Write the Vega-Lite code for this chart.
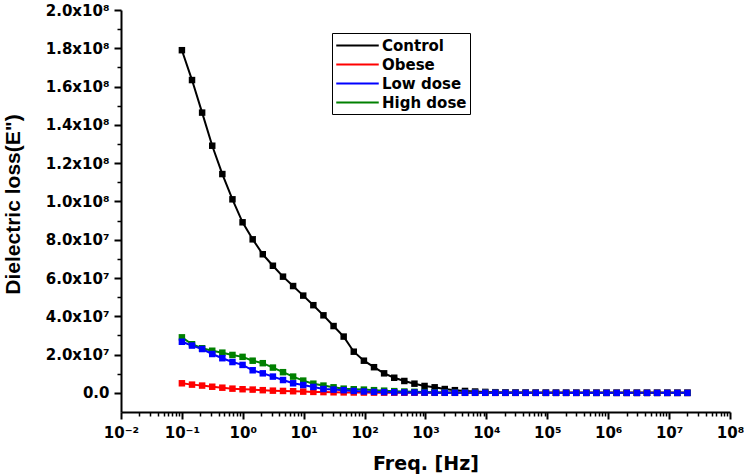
{
  "$schema": "https://vega.github.io/schema/vega-lite/v6.json",
  "width": 609,
  "height": 402,
  "autosize": "none",
  "padding": {"left": 121, "top": 10, "right": 14, "bottom": 64},
  "background": "white",
  "config": {"view": {"stroke": null}},
  "data": {"values": [
{"series":"Control","freq":0.1,"loss":1.79e8},{"series":"Control","freq":0.1466,"loss":1.634e8},{"series":"Control","freq":0.2148,"loss":1.464e8},{"series":"Control","freq":0.3148,"loss":1.291e8},{"series":"Control","freq":0.4613,"loss":1.143e8},{"series":"Control","freq":0.6761,"loss":1.011e8},{"series":"Control","freq":0.991,"loss":8.91e7},{"series":"Control","freq":1.452,"loss":8.02e7},{"series":"Control","freq":2.129,"loss":7.24e7},{"series":"Control","freq":3.12,"loss":6.64e7},{"series":"Control","freq":4.573,"loss":6.07e7},{"series":"Control","freq":6.702,"loss":5.58e7},{"series":"Control","freq":9.822,"loss":5.08e7},{"series":"Control","freq":14.4,"loss":4.58e7},{"series":"Control","freq":21.1,"loss":4.05e7},{"series":"Control","freq":30.93,"loss":3.49e7},{"series":"Control","freq":45.33,"loss":2.94e7},{"series":"Control","freq":66.43,"loss":2.15e7},{"series":"Control","freq":97.36,"loss":1.68e7},{"series":"Control","freq":142.7,"loss":1.34e7},{"series":"Control","freq":209.1,"loss":1.02e7},{"series":"Control","freq":306.5,"loss":7.9e6},{"series":"Control","freq":449.2,"loss":6.2e6},{"series":"Control","freq":658.3,"loss":4.8e6},{"series":"Control","freq":964.9,"loss":3.6e6},{"series":"Control","freq":1414,"loss":2.9e6},{"series":"Control","freq":2073,"loss":2.0e6},{"series":"Control","freq":3038,"loss":1.4e6},{"series":"Control","freq":4453,"loss":1.0e6},{"series":"Control","freq":6526,"loss":7e5},{"series":"Control","freq":9564,"loss":5e5},{"series":"Control","freq":14017,"loss":3.5e5},{"series":"Control","freq":20544,"loss":2.5e5},{"series":"Control","freq":30110,"loss":1.8e5},{"series":"Control","freq":44130,"loss":1.3e5},{"series":"Control","freq":64680,"loss":1e5},{"series":"Control","freq":94780,"loss":8e4},{"series":"Control","freq":138900,"loss":6e4},{"series":"Control","freq":203700,"loss":5e4},{"series":"Control","freq":298500,"loss":4e4},{"series":"Control","freq":437400,"loss":3e4},{"series":"Control","freq":641000,"loss":2.5e4},{"series":"Control","freq":939400,"loss":2e4},{"series":"Control","freq":1377000,"loss":1.6e4},{"series":"Control","freq":2018000,"loss":1.3e4},{"series":"Control","freq":2958000,"loss":1e4},{"series":"Control","freq":4335000,"loss":8e3},{"series":"Control","freq":6354000,"loss":6e3},{"series":"Control","freq":9311000,"loss":5e3},{"series":"Control","freq":13650000,"loss":4e3},{"series":"Control","freq":20000000,"loss":3e3},
{"series":"Obese","freq":0.1,"loss":5.0e6},{"series":"Obese","freq":0.1466,"loss":4.3e6},{"series":"Obese","freq":0.2148,"loss":3.8e6},{"series":"Obese","freq":0.3148,"loss":3.2e6},{"series":"Obese","freq":0.4613,"loss":2.7e6},{"series":"Obese","freq":0.6761,"loss":2.2e6},{"series":"Obese","freq":0.991,"loss":1.9e6},{"series":"Obese","freq":1.452,"loss":1.7e6},{"series":"Obese","freq":2.129,"loss":1.4e6},{"series":"Obese","freq":3.12,"loss":1.15e6},{"series":"Obese","freq":4.573,"loss":1.0e6},{"series":"Obese","freq":6.702,"loss":8.5e5},{"series":"Obese","freq":9.822,"loss":6.5e5},{"series":"Obese","freq":14.4,"loss":5e5},{"series":"Obese","freq":21.1,"loss":4e5},{"series":"Obese","freq":30.93,"loss":3e5},{"series":"Obese","freq":45.33,"loss":2.4e5},{"series":"Obese","freq":66.43,"loss":1.9e5},{"series":"Obese","freq":97.36,"loss":1.5e5},{"series":"Obese","freq":142.7,"loss":1.2e5},{"series":"Obese","freq":209.1,"loss":1e5},{"series":"Obese","freq":306.5,"loss":8e4},{"series":"Obese","freq":449.2,"loss":6e4},{"series":"Obese","freq":658.3,"loss":5e4},{"series":"Obese","freq":964.9,"loss":4e4},{"series":"Obese","freq":1414,"loss":3e4},{"series":"Obese","freq":2073,"loss":2.5e4},{"series":"Obese","freq":3038,"loss":2e4},{"series":"Obese","freq":4453,"loss":1.6e4},{"series":"Obese","freq":6526,"loss":1.3e4},{"series":"Obese","freq":9564,"loss":1e4},{"series":"Obese","freq":14017,"loss":9e3},{"series":"Obese","freq":20544,"loss":8e3},{"series":"Obese","freq":30110,"loss":7e3},{"series":"Obese","freq":44130,"loss":6e3},{"series":"Obese","freq":64680,"loss":5e3},{"series":"Obese","freq":94780,"loss":4.5e3},{"series":"Obese","freq":138900,"loss":4e3},{"series":"Obese","freq":203700,"loss":3.5e3},{"series":"Obese","freq":298500,"loss":3e3},{"series":"Obese","freq":437400,"loss":2.7e3},{"series":"Obese","freq":641000,"loss":2.4e3},{"series":"Obese","freq":939400,"loss":2.1e3},{"series":"Obese","freq":1377000,"loss":1.9e3},{"series":"Obese","freq":2018000,"loss":1.7e3},{"series":"Obese","freq":2958000,"loss":1.5e3},{"series":"Obese","freq":4335000,"loss":1.3e3},{"series":"Obese","freq":6354000,"loss":1.2e3},{"series":"Obese","freq":9311000,"loss":1.1e3},{"series":"Obese","freq":13650000,"loss":1e3},{"series":"Obese","freq":20000000,"loss":900},
{"series":"High dose","freq":0.1,"loss":2.9e7},{"series":"High dose","freq":0.1466,"loss":2.54e7},{"series":"High dose","freq":0.2148,"loss":2.33e7},{"series":"High dose","freq":0.3148,"loss":2.2e7},{"series":"High dose","freq":0.4613,"loss":2.1e7},{"series":"High dose","freq":0.6761,"loss":1.98e7},{"series":"High dose","freq":0.991,"loss":1.88e7},{"series":"High dose","freq":1.452,"loss":1.68e7},{"series":"High dose","freq":2.129,"loss":1.55e7},{"series":"High dose","freq":3.12,"loss":1.32e7},{"series":"High dose","freq":4.573,"loss":1.08e7},{"series":"High dose","freq":6.702,"loss":8.5e6},{"series":"High dose","freq":9.822,"loss":6.4e6},{"series":"High dose","freq":14.4,"loss":4.8e6},{"series":"High dose","freq":21.1,"loss":3.8e6},{"series":"High dose","freq":30.93,"loss":2.9e6},{"series":"High dose","freq":45.33,"loss":2.2e6},{"series":"High dose","freq":66.43,"loss":1.9e6},{"series":"High dose","freq":97.36,"loss":1.7e6},{"series":"High dose","freq":142.7,"loss":1.4e6},{"series":"High dose","freq":209.1,"loss":1.15e6},{"series":"High dose","freq":306.5,"loss":9e5},{"series":"High dose","freq":449.2,"loss":7e5},{"series":"High dose","freq":658.3,"loss":5.5e5},{"series":"High dose","freq":964.9,"loss":4e5},{"series":"High dose","freq":1414,"loss":3e5},{"series":"High dose","freq":2073,"loss":2.3e5},{"series":"High dose","freq":3038,"loss":1.8e5},{"series":"High dose","freq":4453,"loss":1.4e5},{"series":"High dose","freq":6526,"loss":1.1e5},{"series":"High dose","freq":9564,"loss":9e4},{"series":"High dose","freq":14017,"loss":7e4},{"series":"High dose","freq":20544,"loss":5.5e4},{"series":"High dose","freq":30110,"loss":4.5e4},{"series":"High dose","freq":44130,"loss":3.5e4},{"series":"High dose","freq":64680,"loss":2.8e4},{"series":"High dose","freq":94780,"loss":2.2e4},{"series":"High dose","freq":138900,"loss":1.8e4},{"series":"High dose","freq":203700,"loss":1.5e4},{"series":"High dose","freq":298500,"loss":1.2e4},{"series":"High dose","freq":437400,"loss":1e4},{"series":"High dose","freq":641000,"loss":8e3},{"series":"High dose","freq":939400,"loss":7e3},{"series":"High dose","freq":1377000,"loss":6e3},{"series":"High dose","freq":2018000,"loss":5e3},{"series":"High dose","freq":2958000,"loss":4.3e3},{"series":"High dose","freq":4335000,"loss":3.7e3},{"series":"High dose","freq":6354000,"loss":3.2e3},{"series":"High dose","freq":9311000,"loss":2.8e3},{"series":"High dose","freq":13650000,"loss":2.4e3},{"series":"High dose","freq":20000000,"loss":2.1e3},
{"series":"Low dose","freq":0.1,"loss":2.67e7},{"series":"Low dose","freq":0.1466,"loss":2.47e7},{"series":"Low dose","freq":0.2148,"loss":2.29e7},{"series":"Low dose","freq":0.3148,"loss":2.03e7},{"series":"Low dose","freq":0.4613,"loss":1.81e7},{"series":"Low dose","freq":0.6761,"loss":1.61e7},{"series":"Low dose","freq":0.991,"loss":1.46e7},{"series":"Low dose","freq":1.452,"loss":1.18e7},{"series":"Low dose","freq":2.129,"loss":1.02e7},{"series":"Low dose","freq":3.12,"loss":8.5e6},{"series":"Low dose","freq":4.573,"loss":6.7e6},{"series":"Low dose","freq":6.702,"loss":5.0e6},{"series":"Low dose","freq":9.822,"loss":4.1e6},{"series":"Low dose","freq":14.4,"loss":3.1e6},{"series":"Low dose","freq":21.1,"loss":2.0e6},{"series":"Low dose","freq":30.93,"loss":1.7e6},{"series":"Low dose","freq":45.33,"loss":1.4e6},{"series":"Low dose","freq":66.43,"loss":1.0e6},{"series":"Low dose","freq":97.36,"loss":7e5},{"series":"Low dose","freq":142.7,"loss":5e5},{"series":"Low dose","freq":209.1,"loss":4e5},{"series":"Low dose","freq":306.5,"loss":3e5},{"series":"Low dose","freq":449.2,"loss":2.3e5},{"series":"Low dose","freq":658.3,"loss":1.8e5},{"series":"Low dose","freq":964.9,"loss":1.4e5},{"series":"Low dose","freq":1414,"loss":1.1e5},{"series":"Low dose","freq":2073,"loss":9e4},{"series":"Low dose","freq":3038,"loss":7e4},{"series":"Low dose","freq":4453,"loss":5.5e4},{"series":"Low dose","freq":6526,"loss":4.5e4},{"series":"Low dose","freq":9564,"loss":3.5e4},{"series":"Low dose","freq":14017,"loss":2.8e4},{"series":"Low dose","freq":20544,"loss":2.2e4},{"series":"Low dose","freq":30110,"loss":1.8e4},{"series":"Low dose","freq":44130,"loss":1.5e4},{"series":"Low dose","freq":64680,"loss":1.2e4},{"series":"Low dose","freq":94780,"loss":1e4},{"series":"Low dose","freq":138900,"loss":8e3},{"series":"Low dose","freq":203700,"loss":7e3},{"series":"Low dose","freq":298500,"loss":6e3},{"series":"Low dose","freq":437400,"loss":5e3},{"series":"Low dose","freq":641000,"loss":4.3e3},{"series":"Low dose","freq":939400,"loss":3.7e3},{"series":"Low dose","freq":1377000,"loss":3.2e3},{"series":"Low dose","freq":2018000,"loss":2.8e3},{"series":"Low dose","freq":2958000,"loss":2.4e3},{"series":"Low dose","freq":4335000,"loss":2.1e3},{"series":"Low dose","freq":6354000,"loss":1.8e3},{"series":"Low dose","freq":9311000,"loss":1.6e3},{"series":"Low dose","freq":13650000,"loss":1.4e3},{"series":"Low dose","freq":20000000,"loss":1.2e3}
  ]},
  "layer": [
    {
      "mark": {"type": "line", "strokeWidth": 2, "point": {"filled": true, "shape": "square", "size": 42, "opacity": 1}},
      "encoding": {
        "x": {"field": "freq", "type": "quantitative",
          "scale": {"type": "log", "domain": [0.01, 100000000], "nice": false},
          "axis": {"orient": "bottom", "title": "Freq. [Hz]", "grid": false,
            "values": [0.01, 0.1, 1, 10, 100, 1000, 10000, 100000, 1000000, 10000000, 100000000],
            "labelExpr": "'10' + ['⁻²','⁻¹','⁰','¹','²','³','⁴','⁵','⁶','⁷','⁸'][round(log(datum.value)/LN10)+2]",
            "labelFont": "DejaVu Sans", "labelFontWeight": "bold", "labelFontSize": 15, "labelColor": "black",
            "labelPadding": 6, "labelFlush": false, "labelOverlap": false,
            "tickSize": 7, "tickWidth": 2, "tickColor": "black",
            "domainColor": "black", "domainWidth": 2,
            "titleFont": "DejaVu Sans", "titleFontWeight": "bold", "titleFontSize": 19, "titleColor": "black",
            "titleY": 42}},
        "y": {"field": "loss", "type": "quantitative",
          "scale": {"domain": [-10000000, 200000000], "nice": false, "zero": false},
          "axis": {"orient": "left", "title": "Dielectric loss(E\")", "grid": false,
            "values": [0, 20000000, 40000000, 60000000, 80000000, 100000000, 120000000, 140000000, 160000000, 180000000, 200000000],
            "labelExpr": "datum.value == 0 ? '0.0' : (datum.value < 100000000 ? format(datum.value/10000000, '.1f') + 'x10⁷' : format(datum.value/100000000, '.1f') + 'x10⁸')",
            "labelFont": "DejaVu Sans", "labelFontWeight": "bold", "labelFontSize": 15, "labelColor": "black",
            "labelPadding": 5, "labelOverlap": false, "labelFlush": false,
            "tickSize": 7, "tickWidth": 2, "tickColor": "black",
            "domainColor": "black", "domainWidth": 2,
            "titleFont": "Liberation Sans", "titleFontWeight": "bold", "titleFontSize": 21, "titleColor": "black",
            "titleX": -98, "titleY": 194}},
        "color": {"field": "series", "type": "nominal",
          "scale": {"domain": ["Control", "Obese", "Low dose", "High dose"], "range": ["#000000", "#ff0000", "#0000ff", "#008000"]},
          "legend": {"orient": "none", "legendX": 211, "legendY": 23, "title": null,
            "symbolType": "M-2.5,0L2.5,0", "symbolSize": 289, "symbolStrokeWidth": 2, "symbolOffset": 13,
            "labelFont": "DejaVu Sans", "labelFontWeight": "bold", "labelFontSize": 15, "labelColor": "black",
            "strokeColor": "black", "fillColor": "white", "padding": 3, "labelOffset": 15, "rowPadding": 1}}
      }
    },
    {
      "mark": {"type": "point", "opacity": 0},
      "encoding": {
        "x": {"field": "freq", "type": "quantitative",
          "axis": {"orient": "bottom", "title": null, "labels": false, "domain": false, "grid": false,
            "values": [0.02,0.03,0.04,0.05,0.06,0.07,0.08,0.09,0.2,0.3,0.4,0.5,0.6,0.7,0.8,0.9,2,3,4,5,6,7,8,9,20,30,40,50,60,70,80,90,200,300,400,500,600,700,800,900,2000,3000,4000,5000,6000,7000,8000,9000,20000,30000,40000,50000,60000,70000,80000,90000,200000,300000,400000,500000,600000,700000,800000,900000,2000000,3000000,4000000,5000000,6000000,7000000,8000000,9000000,20000000,30000000,40000000,50000000,60000000,70000000,80000000,90000000],
            "tickSize": 4, "tickWidth": 1.5, "tickColor": "black"}},
        "y": {"field": "loss", "type": "quantitative",
          "axis": {"orient": "left", "title": null, "labels": false, "domain": false, "grid": false,
            "values": [10000000, 30000000, 50000000, 70000000, 90000000, 110000000, 130000000, 150000000, 170000000, 190000000],
            "tickSize": 4, "tickWidth": 1.5, "tickColor": "black"}}
      }
    }
  ],
  "resolve": {"axis": {"x": "independent", "y": "independent"}}
}
